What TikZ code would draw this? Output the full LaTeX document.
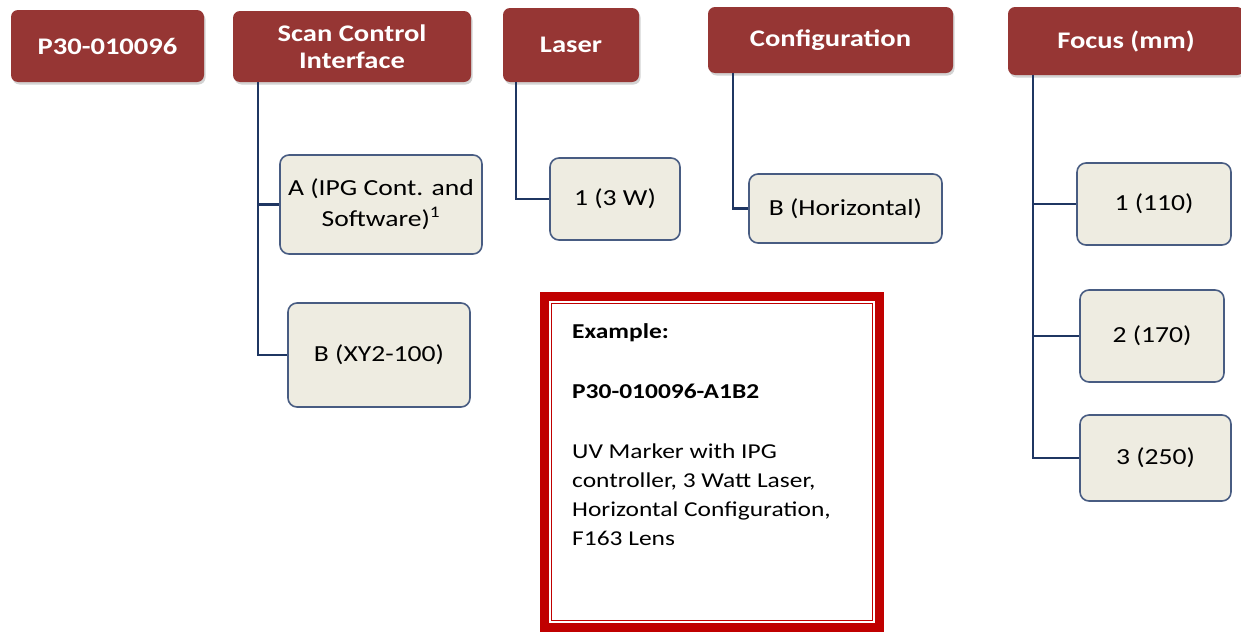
\documentclass[tikz,border=0pt]{standalone}
\usepackage{fontspec}
\setmainfont{Carlito}[FakeStretch=1.2]
\usetikzlibrary{shadows}
\definecolor{hdr}{RGB}{150,54,52}
\definecolor{boxfill}{RGB}{238,236,225}
\definecolor{boxline}{RGB}{72,92,130}
\definecolor{conn}{RGB}{31,54,98}
\definecolor{exred}{RGB}{192,0,0}
\tikzset{
  hdrbox/.style={rectangle, rounded corners=7pt, fill=hdr, text=white, font=\fontsize{23.8}{27}\selectfont\bfseries, align=center, inner sep=0pt,
    drop shadow={opacity=0.35, shadow xshift=1.5pt, shadow yshift=-2.5pt}},
  optbox/.style={rectangle, rounded corners=9pt, fill=boxfill, draw=boxline, line width=1.6pt, align=center, inner sep=0pt, font=\fontsize{23}{31}\selectfont},
  link/.style={draw=conn, line width=2.7pt},
}
\begin{document}
\begin{tikzpicture}[x=1pt,y=-1pt]
\useasboundingbox (0,0) rectangle (1241,632);
% headers
\node[hdrbox, minimum width=193pt, minimum height=72pt] (pn) at (107.5,46) {P30-010096};
\node[hdrbox, minimum width=238pt, minimum height=71pt] (sci) at (352,46.5) {Scan Control\\Interface};
\node[hdrbox, minimum width=136pt, minimum height=74pt] (las) at (571,45) {Laser};
\node[hdrbox, minimum width=245pt, minimum height=66pt] (cfg) at (830.5,40) {Configuration};
\node[hdrbox, minimum width=236pt, minimum height=68pt] (foc) at (1126,41) {Focus (mm)};
% connectors
\coordinate (sciT) at (258,82);
\coordinate (lasT) at (516,82);
\coordinate (cfgT) at (733,73);
\coordinate (focT) at (1033,75);
% options
\node[optbox, minimum width=202pt, minimum height=99pt] (sciA) at (381,204.5) {A (IPG Cont. and\\Software)\textsuperscript{1}};
\node[optbox, minimum width=182pt, minimum height=104pt] (sciB) at (379,355) {B (XY2-100)};
\node[optbox, minimum width=130pt, minimum height=82pt] (las1) at (615,199) {1 (3 W)};
\node[optbox, minimum width=193pt, minimum height=69pt] (cfgB) at (845.5,208.5) {B (Horizontal)};
\node[optbox, minimum width=154pt, minimum height=82pt] (foc1) at (1154,204) {1 (110)};
\node[optbox, minimum width=144pt, minimum height=92pt] (foc2) at (1152,336) {2 (170)};
\node[optbox, minimum width=151pt, minimum height=86pt] (foc3) at (1155.5,458) {3 (250)};
\begin{scope}[on background layer/.try]
\end{scope}
\draw[link] (sciT) -- (258,355) -- (sciB.west);
\draw[link] (258,204.5) -- (sciA.west);
\draw[link] (lasT) -- (516,199) -- (las1.west);
\draw[link] (cfgT) -- (733,208.5) -- (cfgB.west);
\draw[link] (focT) -- (1033,458) -- (foc3.west);
\draw[link] (1033,204) -- (foc1.west);
\draw[link] (1033,336) -- (foc2.west);
% example box
\draw[exred, line width=9pt] (544.5,296.5) rectangle (879.5,627.5);
\draw[exred, line width=1.5pt] (551.5,303.5) rectangle (872.5,620.5);
\node[anchor=north west, align=left, inner sep=0pt, font=\fontsize{21.2}{29}\selectfont] (ex) at (572,323) {\textbf{Example:}\\[31pt]\textbf{P30-010096-A1B2}\\[31pt]UV Marker with IPG\\controller, 3 Watt Laser,\\Horizontal Configuration,\\F163 Lens};
\end{tikzpicture}
\end{document}
